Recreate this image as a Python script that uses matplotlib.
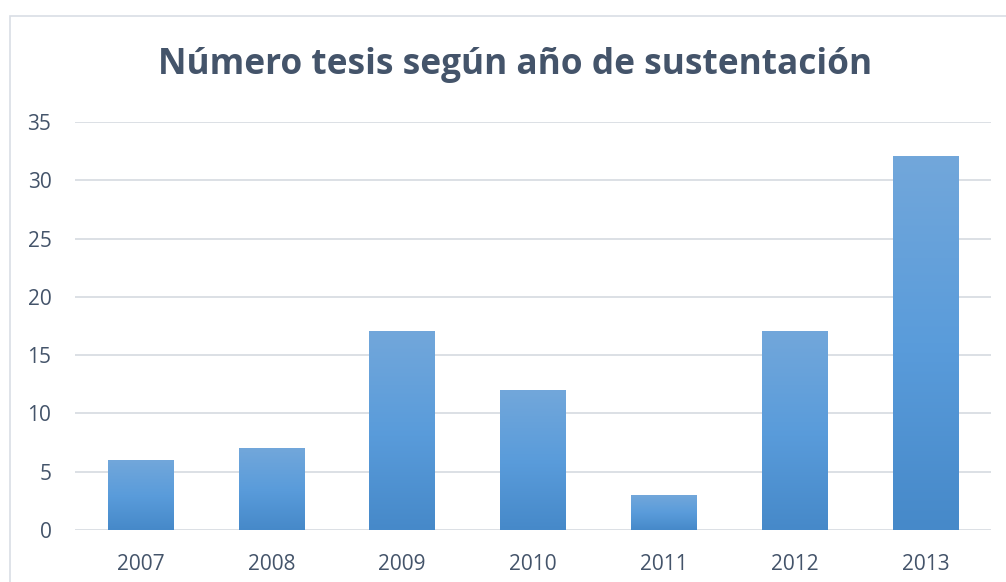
import numpy as np
import matplotlib.pyplot as plt
from matplotlib.colors import LinearSegmentedColormap
from matplotlib.patches import Rectangle

years = ["2007", "2008", "2009", "2010", "2011", "2012", "2013"]
tesis = [6, 7, 17, 12, 3, 17, 32]
y_ticks = [0, 5, 10, 15, 20, 25, 30, 35]

text_color = "#44546A"
grid_color = "#D9DDE3"

fig = plt.figure(figsize=(10.06, 5.82), dpi=100)
fig.patches.append(Rectangle((10 / 1006, -0.1), 1.2, 1 - 16 / 582 + 0.1,
                             transform=fig.transFigure, fill=False,
                             edgecolor="#D9DEE5", linewidth=1.2))

ax = fig.add_axes([75 / 1006, 1 - 530 / 582, (991 - 75) / 1006, (530 - 122) / 582])

# gradient from lighter top to darker bottom
cmap = LinearSegmentedColormap.from_list("bar", ["#4689C9", "#5A9CDB", "#72A7DA"])
grad = np.linspace(0, 1, 256).reshape(-1, 1)

x = np.arange(len(years))
bars = ax.bar(x, tesis, width=0.5, color="none", zorder=3)
for b in bars:
    im = ax.imshow(grad, cmap=cmap, origin="lower", aspect="auto",
                   extent=[b.get_x(), b.get_x() + b.get_width(), 0, b.get_height()],
                   zorder=3)

ax.set_xlim(-0.5, len(years) - 0.5)
ax.set_ylim(0, 35)
ax.set_xticks(x)
ax.set_xticklabels(years)
ax.set_yticks(y_ticks)
ax.grid(axis="y", color=grid_color, linewidth=1.3, zorder=0)
ax.set_axisbelow(True)
for s in ax.spines.values():
    s.set_visible(False)
ax.tick_params(length=0, colors=text_color, labelsize=15)
ax.tick_params(axis="x", pad=17)
ax.tick_params(axis="y", pad=17)
for lab in ax.get_xticklabels() + ax.get_yticklabels():
    lab.set_family("Open Sans")

fig.text(515 / 1006, 1 - 65 / 582, "Número tesis según año de sustentación",
         ha="center", va="center", fontsize=25.4, fontweight="bold",
         color=text_color, family="Open Sans")

plt.savefig("out.png", dpi=100)
